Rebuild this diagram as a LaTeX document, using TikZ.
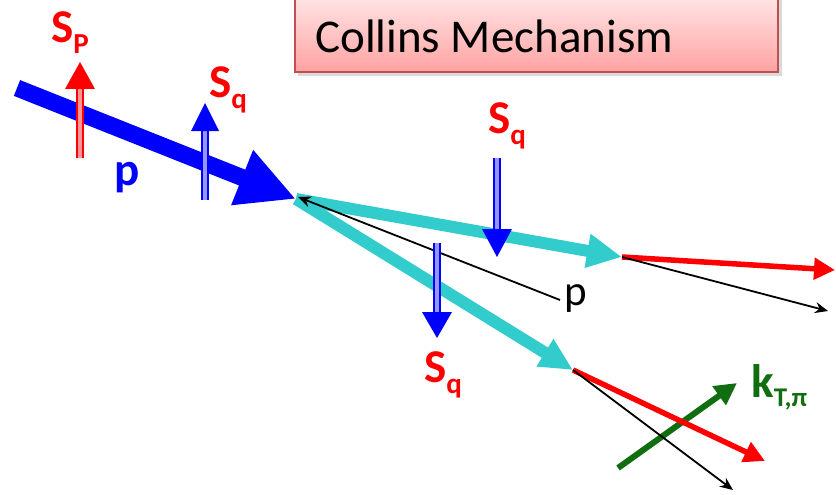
\documentclass[tikz,border=0pt]{standalone}
\usepackage{fontspec}
\usetikzlibrary{arrows.meta}
\newfontfamily\labfont{Carlito}
\definecolor{pblue}{RGB}{0,0,255}
\definecolor{pred}{RGB}{255,0,0}
\definecolor{pcyan}{RGB}{51,204,204}
\definecolor{pgreen}{RGB}{16,110,16}
\definecolor{lblue}{RGB}{150,150,255}
\definecolor{lred}{RGB}{255,150,150}
\definecolor{boxtop}{RGB}{255,230,230}
\definecolor{boxbot}{RGB}{255,162,162}
\definecolor{boxline}{RGB}{192,80,77}
\tikzset{
  dshaft/.style={line width=1.8pt, double distance=4pt},
  lab/.style={inner sep=0pt, anchor=base west, font=\labfont\bfseries\fontsize{47}{47}\selectfont},
  thinarrow/.style={black, line width=1.8pt, -{Stealth[length=13pt,width=11pt]}},
  outarrow/.style={pred, line width=5.5pt, -{Triangle[length=21pt,width=21pt]}},
}
\newcommand{\subtxt}[1]{\raisebox{-11pt}{\fontsize{29}{29}\selectfont #1}}
\begin{document}
\begin{tikzpicture}[x=1pt,y=-1pt]
\useasboundingbox (0,0) rectangle (836,495);
% title box
\fill[black!25, opacity=0.6] (298,-5) rectangle (782,76);
\shade[top color=boxtop, bottom color=boxbot, draw=boxline, line width=1.2pt] (295,-5) rectangle (778,72);
\node[inner sep=0pt, anchor=base west, font=\labfont\fontsize{47}{47}\selectfont] (title) at (315,53) {Collins Mechanism};
% coordinates
\coordinate (pin) at (17,88);
\coordinate (vtx) at (296,199);
\coordinate (up) at (622,257);
\coordinate (lo) at (573,370);
\coordinate (redupend) at (835,270);
\coordinate (blkupend) at (828,311);
\coordinate (redloend) at (765,461);
\coordinate (blkloend) at (733,490);
\coordinate (pstart) at (560,300);
\coordinate (kstart) at (618,468);
\coordinate (kend) at (737,383);
% incoming proton
\draw[pblue, line width=17pt, -{Triangle[length=58pt,width=55pt]}] (pin) -- (vtx);
% quark lines
\draw[pcyan, line width=12pt, -{Triangle[length=35pt,width=32pt]}] (vtx) -- (up);
\draw[pcyan, line width=12pt, -{Triangle[length=33pt,width=30pt]}] (vtx) -- (lo);
% black p arrow
\draw[thinarrow] (pstart) -- ([xshift=2pt,yshift=2pt]vtx);
% outgoing
\draw[pgreen, line width=6pt, -{Triangle[length=22pt,width=22pt]}] (kstart) -- (kend);
\draw[outarrow] (up) -- (redupend);
\draw[thinarrow] (up) -- (blkupend);
\draw[outarrow] (lo) -- (redloend);
\draw[thinarrow] (lo) -- (blkloend);
% spin arrows
\draw[pred, dshaft, double=lred] (80,158) -- (80,86);
\fill[pred] (65,89) -- (95,89) -- (80,62) -- cycle;
\draw[pblue, dshaft, double=lblue] (205,200) -- (205,128);
\fill[pblue] (191,131) -- (219,131) -- (205,103) -- cycle;
\draw[pblue, dshaft, double=lblue] (497,158) -- (497,232);
\fill[pblue] (482,229) -- (512,229) -- (497,257) -- cycle;
\draw[pblue, dshaft, double=lblue] (437,243) -- (437,315);
\fill[pblue] (422,312) -- (452,312) -- (437,338) -- cycle;
% labels
\node[lab, text=pred] (sp) at (51,43) {S\subtxt{P}};
\node[lab, text=pred] (sq1) at (209,98) {S\subtxt{q}};
\node[lab, text=pred] (sq2) at (488,133) {S\subtxt{q}};
\node[lab, text=pred] (sq3) at (424,382) {S\subtxt{q}};
\node[lab, text=pblue] (pb) at (114,185) {p};
\node[inner sep=0pt, anchor=base west, font=\labfont\fontsize{43}{43}\selectfont] (pk) at (564,305) {p};
\node[lab, text=pgreen] (kt) at (751,397) {k\raisebox{-9pt}{\fontsize{27}{27}\selectfont T,π}};
\end{tikzpicture}
\end{document}
